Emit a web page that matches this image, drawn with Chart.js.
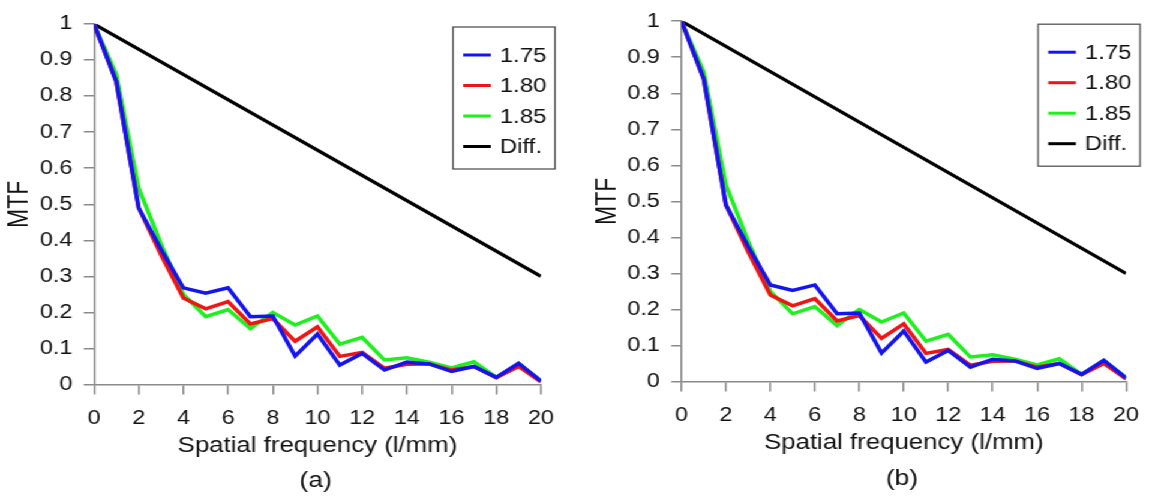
<!DOCTYPE html>
<html>
<head>
<meta charset="utf-8">
<script src="https://cdn.jsdelivr.net/npm/chart.js@4.4.1/dist/chart.umd.min.js"></script>
<style>
html, body { margin: 0; padding: 0; background: #fff; overflow: hidden; }
/* the source figure is stretched sideways, so draw narrow and widen it */
#wrap { position: absolute; left: 0; top: 0; width: 962px; height: 496px; transform: scaleX(1.2); transform-origin: 0 0; }
#wrap canvas { position: absolute; top: 0; }
</style>
</head>
<body>
<div id="wrap">
  <canvas id="chartA" width="481" height="496" style="left:0"></canvas>
  <canvas id="chartB" width="481" height="496" style="left:481px"></canvas>
</div>
<script>
// spatial frequency (l/mm)
var freq = [0, 1, 2, 3, 4, 5, 6, 7, 8, 9, 10, 11, 12, 13, 14, 15, 16, 17, 18, 19, 20];
// MTF curves
var mtf175 = [1, 0.84, 0.49, 0.375, 0.268, 0.253, 0.268, 0.188, 0.19, 0.079, 0.14, 0.054, 0.086, 0.04, 0.062, 0.057, 0.036, 0.05, 0.02, 0.059, 0.01];
var mtf180 = [1, 0.84, 0.49, 0.36, 0.24, 0.21, 0.23, 0.168, 0.183, 0.12, 0.16, 0.078, 0.089, 0.045, 0.056, 0.057, 0.04, 0.05, 0.019, 0.05, 0.007];
var mtf185 = [1, 0.86, 0.545, 0.39, 0.25, 0.188, 0.208, 0.155, 0.2, 0.165, 0.19, 0.112, 0.131, 0.068, 0.074, 0.062, 0.046, 0.063, 0.02, 0.058, 0.01];
// diffraction limit
var diffX = [0, 20];
var diffY = [1, 0.3];

var labels = ['1.75', '1.80', '1.85', 'Diff.'];
var colors = ['#1414f0', '#f01414', '#1ef01e', '#000000'];

Chart.defaults.font.family = '"Liberation Sans", Arial, sans-serif';
Chart.defaults.color = '#111';

function pts(xs, ys) {
  return xs.map(function (x, i) { return { x: x, y: ys[i] }; });
}

// legend in a framed box, drawn inside the plot
var boxLegend = {
  id: 'boxLegend',
  afterDraw: function (chart, args, opt) {
    var ctx = chart.ctx, a = chart.chartArea;
    var x0 = a.right + opt.dx, y0 = a.top + opt.dy;
    ctx.save();
    ctx.fillStyle = '#fff';
    ctx.fillRect(x0, y0, opt.w, opt.h);
    ctx.strokeStyle = '#555';
    ctx.lineWidth = 1.3;
    ctx.strokeRect(x0, y0, opt.w, opt.h);
    ctx.font = '20px "Liberation Sans", Arial, sans-serif';
    ctx.textBaseline = 'middle';
    chart.data.datasets.forEach(function (ds, i) {
      var y = y0 + 28 + i * 30.5;
      ctx.strokeStyle = ds.borderColor;
      ctx.lineWidth = 3;
      ctx.beginPath();
      ctx.moveTo(x0 + 8.5, y);
      ctx.lineTo(x0 + 31.5, y);
      ctx.stroke();
      ctx.fillStyle = '#111';
      ctx.fillText(ds.label, x0 + 39, y + 1);
    });
    ctx.restore();
  }
};

// (a) / (b) under the axis title
var caption = {
  id: 'caption',
  afterDraw: function (chart, args, opt) {
    var ctx = chart.ctx, a = chart.chartArea;
    ctx.save();
    ctx.font = '22px "Liberation Sans", Arial, sans-serif';
    ctx.fillStyle = '#111';
    ctx.textAlign = 'center';
    ctx.textBaseline = 'middle';
    ctx.fillText(opt.text, (a.left + a.right) / 2 - 1.5, opt.y);
    ctx.restore();
  }
};

function makeChart(id, cap, pad, capY) {
  var sets = [mtf175, mtf180, mtf185];
  var datasets = sets.map(function (s, i) {
    return { label: labels[i], data: pts(freq, s), borderColor: colors[i], borderWidth: 3.5 };
  });
  datasets.push({ label: labels[3], data: pts(diffX, diffY), borderColor: colors[3], borderWidth: 3.2 });

  return new Chart(document.getElementById(id), {
    type: 'line',
    data: { datasets: datasets },
    options: {
      responsive: false,
      animation: false,
      layout: { padding: pad },
      elements: { point: { radius: 0 }, line: { tension: 0, fill: false } },
      plugins: {
        legend: { display: false },
        tooltip: { enabled: false },
        boxLegend: { dx: -73.3, dy: 3, w: 85, h: 142 },
        caption: { text: cap, y: capY }
      },
      scales: {
        x: {
          type: 'linear', min: 0, max: 20,
          ticks: { stepSize: 2, padding: 12.8, font: { size: 19.5 }, color: '#111' },
          grid: { drawOnChartArea: false, tickLength: 10, color: '#8a8a8a', lineWidth: 1.5 },
          border: { color: '#8a8a8a', width: 1.5 },
          title: { display: true, text: 'Spatial frequency (l/mm)', font: { size: 21.5 }, color: '#111', padding: { top: 4, bottom: 0 } },
          afterFit: function (axis) { axis.height = 74.9; }
        },
        y: {
          min: 0, max: 1,
          ticks: {
            stepSize: 0.1, padding: 9.5, font: { size: 19.5 }, color: '#111',
            callback: function (v) { return String(+v.toFixed(1)); }
          },
          grid: { drawOnChartArea: false, tickLength: 8.5, color: '#8a8a8a', lineWidth: 1.5 },
          border: { color: '#8a8a8a', width: 1.5 },
          title: { display: true, text: 'MTF', font: { size: 23 }, color: '#111', padding: { top: 2.9, bottom: 0 } },
          afterFit: function (axis) { axis.width = 78.3; }
        }
      }
    },
    plugins: [boxLegend, caption]
  });
}

makeChart('chartA', '(a)', { left: 0, top: 24, right: 30.2, bottom: 36.6 }, 481);
makeChart('chartB', '(b)', { left: 8.6, top: 21, right: 20.4, bottom: 39.6 }, 479);
</script>
</body>
</html>
